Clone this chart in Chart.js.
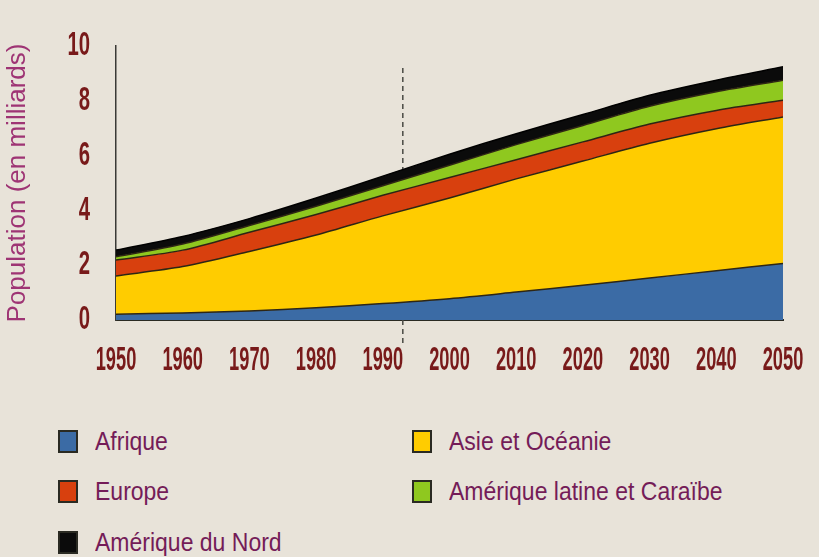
<!DOCTYPE html>
<html lang="fr">
<head>
<meta charset="UTF-8">
<style>
body {
    margin: 0;
    width: 819px;
    height: 557px;
    overflow: hidden;
    background-color: #e8e3d9;
    font-family: "Liberation Sans", Arial, sans-serif;
}

.chart-container {
    position: absolute;
    left: 0;
    top: 0;
    width: 819px;
    height: 400px;
}

.legend-item {
    position: absolute;
    display: flex;
    align-items: center;
    height: 26px;
}

.legend-box {
    width: 16px;
    height: 19px;
    border: 2px solid #2a2a22;
}

.legend-text {
    margin-left: 17px;
    font-size: 23px;
    color: #741c58;
    transform: scaleY(1.1);
    white-space: nowrap;
}
</style>
</head>
<body>
<div class="chart-container">
<canvas id="popChart"></canvas>
</div>
<div id="legend"></div>
<script src="https://cdn.jsdelivr.net/npm/chart.js"></script>
<script>
// values, in billions
const years = [1950, 1960, 1970, 1980, 1990, 2000, 2010, 2020, 2030, 2040, 2050];
const regions = ['Afrique', 'Asie et Océanie', 'Europe', 'Amérique latine et Caraïbe', 'Amérique du Nord'];
const afrique = [0.21, 0.26, 0.33, 0.45, 0.60, 0.78, 1.02, 1.27, 1.53, 1.80, 2.06];
const asie = [1.40, 1.69, 2.17, 2.65, 3.20, 3.67, 4.13, 4.53, 4.92, 5.18, 5.35];
const europe = [0.58, 0.60, 0.70, 0.75, 0.75, 0.75, 0.70, 0.70, 0.70, 0.67, 0.61];
const ameriqueLatine = [0.12, 0.22, 0.25, 0.30, 0.35, 0.45, 0.55, 0.60, 0.65, 0.68, 0.73];
const ameriqueNord = [0.24, 0.28, 0.25, 0.30, 0.35, 0.40, 0.40, 0.40, 0.40, 0.42, 0.49];
const colors = ['#3b6ba5', '#ffcc00', '#d8400e', '#8fc81f', '#0b0b0b'];
const xTicks = [1950, 1960, 1970, 1980, 1990, 2000, 2010, 2020, 2030, 2040, 2050];
const yTicks = [0, 2, 4, 6, 8, 10];
const markYear = 1993;

const series = [afrique, asie, europe, ameriqueLatine, ameriqueNord];

// tick labels in a squeezed bold face (no narrow font installed)
const squeezedTicks = {
    id: 'squeezedTicks',
    beforeDatasetsDraw(chart) {
        const {ctx, scales: {x, y}} = chart;
        ctx.save();
        ctx.fillStyle = '#781a1a';
        ctx.font = "bold 29px 'Liberation Sans', Arial, sans-serif";
        ctx.textBaseline = 'middle';
        x.ticks.forEach(t => {
            ctx.save();
            ctx.translate(x.getPixelForValue(t.value), x.top + 41);
            ctx.scale(0.63, 1.15);
            ctx.textAlign = 'center';
            ctx.fillText(String(t.value), 0, 0);
            ctx.restore();
        });
        y.ticks.forEach(t => {
            ctx.save();
            ctx.translate(y.right - 26, y.getPixelForValue(t.value));
            ctx.scale(0.7, 1.15);
            ctx.textAlign = 'right';
            ctx.fillText(String(t.value), 0, 0);
            ctx.restore();
        });
        ctx.restore();
    }
};

// dashed vertical marker, drawn under the areas
const markerLine = {
    id: 'markerLine',
    beforeDatasetsDraw(chart) {
        const {ctx, scales: {x, y}} = chart;
        const px = x.getPixelForValue(markYear);
        ctx.save();
        ctx.strokeStyle = '#4a4a44';
        ctx.lineWidth = 1.5;
        ctx.setLineDash([5, 4]);
        ctx.beginPath();
        ctx.moveTo(px, y.getPixelForValue(9.2));
        ctx.lineTo(px, y.bottom + 27);
        ctx.stroke();
        ctx.restore();
    }
};

const ctx = document.getElementById('popChart').getContext('2d');
const popChart = new Chart(ctx, {
    type: 'line',
    data: {
        datasets: series.map((values, i) => ({
            label: regions[i],
            data: years.map((yr, j) => ({x: yr, y: values[j]})),
            backgroundColor: colors[i],
            borderColor: i === 4 ? '#000000' : '#2e2614',
            borderWidth: 1.5,
            fill: i === 0 ? 'origin' : '-1',
            pointRadius: 0,
            tension: 0.3
        }))
    },
    options: {
        responsive: true,
        maintainAspectRatio: false,
        animation: false,
        layout: {
            padding: {top: 46, right: 36, bottom: 24, left: 0}
        },
        scales: {
            x: {
                type: 'linear',
                min: 1950,
                max: 2050,
                grid: {display: false, drawTicks: false},
                border: {display: true, color: '#2a2a22', width: 2},
                afterBuildTicks: (scale) => { scale.ticks = xTicks.map(v => ({value: v})); },
                afterFit: (scale) => { scale.height = 56; },
                ticks: {display: false}
            },
            y: {
                stacked: true,
                min: 0,
                max: 10,
                grid: {display: false, drawTicks: false},
                border: {display: true, color: '#3a3a36', width: 1.5},
                afterBuildTicks: (scale) => { scale.ticks = yTicks.map(v => ({value: v})); },
                afterFit: (scale) => { scale.width = 116; },
                ticks: {display: false},
                title: {
                    display: true,
                    text: 'Population (en milliards)',
                    color: '#9e3474',
                    font: {family: "'Liberation Sans', Arial, sans-serif", size: 26},
                    padding: {top: 2, bottom: 0}
                }
            }
        },
        plugins: {
            legend: {display: false},
            tooltip: {enabled: false}
        }
    },
    plugins: [squeezedTicks, markerLine]
});

// two-column legend under the chart
const legendCols = [58, 412];
const legendRows = [428, 478, 529];
const legendEl = document.getElementById('legend');
popChart.data.datasets.forEach((ds, i) => {
    const item = document.createElement('div');
    item.className = 'legend-item';
    item.style.left = legendCols[i % 2] + 'px';
    item.style.top = legendRows[Math.floor(i / 2)] + 'px';
    const box = document.createElement('span');
    box.className = 'legend-box';
    box.style.backgroundColor = ds.backgroundColor;
    const text = document.createElement('span');
    text.className = 'legend-text';
    text.textContent = ds.label;
    item.appendChild(box);
    item.appendChild(text);
    legendEl.appendChild(item);
});
</script>
</body>
</html>
